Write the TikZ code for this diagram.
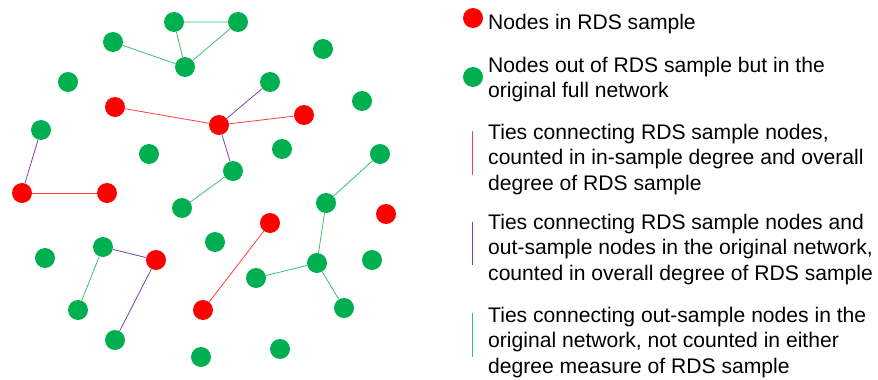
\documentclass[tikz,border=0pt]{standalone}
\usepackage{fontspec}
\setmainfont{Liberation Sans}
\usepackage{xcolor}
\usetikzlibrary{positioning}

\definecolor{rdsred}{HTML}{FF0000}
\definecolor{outgreen}{HTML}{00B050}
\definecolor{tiepurple}{HTML}{7A40B0}
\definecolor{tiered}{HTML}{FF4040}
\definecolor{tiegreen}{HTML}{3CBF70}

\begin{document}
\begin{tikzpicture}[x=1pt, y=-1pt,
        innode/.style={circle, fill=rdsred, minimum size=20pt, inner sep=0pt},
        outnode/.style={circle, fill=outgreen, minimum size=20pt, inner sep=0pt},
        redtie/.style={draw=tiered, line width=0.8pt},
        purpletie/.style={draw=tiepurple, line width=0.8pt},
        greentie/.style={draw=tiegreen, line width=0.8pt},
        legtext/.style={anchor=base west, align=left, inner sep=0pt,
            font=\fontsize{21.1}{25.5}\selectfont}]
        \useasboundingbox (0,0) rectangle (878,380);

        % nodes in RDS sample
        \node[innode] (r1) at (115,107) {};
        \node[innode] (r2) at (219,125) {};
        \node[innode] (r3) at (304,115) {};
        \node[innode] (r4) at (22,193) {};
        \node[innode] (r5) at (107,193) {};
        \node[innode] (r6) at (386,214) {};
        \node[innode] (r7) at (270,223) {};
        \node[innode] (r8) at (156,260) {};
        \node[innode] (r9) at (203,310) {};

        % nodes out of the sample
        \node[outnode] (g1) at (174,22) {};
        \node[outnode] (g2) at (238,22) {};
        \node[outnode] (g3) at (113,42) {};
        \node[outnode] (g4) at (185,67) {};
        \node[outnode] (g5) at (323,49) {};
        \node[outnode] (g6) at (68,82) {};
        \node[outnode] (g7) at (270,82) {};
        \node[outnode] (g8) at (362,101) {};
        \node[outnode] (g9) at (41,130) {};
        \node[outnode] (g10) at (149,154) {};
        \node[outnode] (g11) at (282,149) {};
        \node[outnode] (g12) at (380,154) {};
        \node[outnode] (g13) at (233,171) {};
        \node[outnode] (g14) at (182,208) {};
        \node[outnode] (g15) at (326,203) {};
        \node[outnode] (g16) at (215,242) {};
        \node[outnode] (g17) at (103,247) {};
        \node[outnode] (g18) at (45,258) {};
        \node[outnode] (g19) at (317,263) {};
        \node[outnode] (g20) at (372,260) {};
        \node[outnode] (g21) at (256,278) {};
        \node[outnode] (g22) at (78,310) {};
        \node[outnode] (g23) at (344,308) {};
        \node[outnode] (g24) at (115,340) {};
        \node[outnode] (g25) at (201,357) {};
        \node[outnode] (g26) at (280,349) {};

        % ties
        \draw[redtie] (r1) -- (r2) -- (r3);
        \draw[redtie] (r4) -- (r5);
        \draw[redtie] (r7) -- (r9);

        \draw[purpletie] (r2) -- (g7);
        \draw[purpletie] (r2) -- (g13);
        \draw[purpletie] (g9) -- (r4);
        \draw[purpletie] (g17) -- (r8) -- (g24);

        \draw[greentie] (g1) -- (g2) -- (g4) -- (g1);
        \draw[greentie] (g3) -- (g4);
        \draw[greentie] (g13) -- (g14);
        \draw[greentie] (g12) -- (g15) -- (g19) -- (g21);
        \draw[greentie] (g19) -- (g23);
        \draw[greentie] (g17) -- (g22);

        % legend
        \node[innode] (keyin) at (473,18) {};
        \node[legtext] (txtin) at (488,29) {Nodes in RDS sample};

        \node[outnode] (keyout) at (473,77) {};
        \node[legtext] (txtout) at (488,97.5) {Nodes out of RDS sample but in the\\original full network};

        \coordinate (redtop) at (472,131);
        \coordinate (redbot) at (472,175);
        \draw[redtie] (redtop) -- (redbot);
        \node[legtext] (txtred) at (488,190) {Ties connecting RDS sample nodes,\\counted in in-sample degree and overall\\degree of RDS sample};

        \coordinate (purtop) at (472,222);
        \coordinate (purbot) at (472,265);
        \draw[purpletie] (purtop) -- (purbot);
        \node[legtext] (txtpur) at (488,280) {Ties connecting RDS sample nodes and\\out-sample nodes in the original network,\\counted in overall degree of RDS sample};

        \coordinate (grntop) at (472,313);
        \coordinate (grnbot) at (472,357);
        \draw[greentie] (grntop) -- (grnbot);
        \node[legtext] (txtgrn) at (488,373) {Ties connecting out-sample nodes in the\\original network, not counted in either\\degree measure of RDS sample};
    \end{tikzpicture}
\end{document}
